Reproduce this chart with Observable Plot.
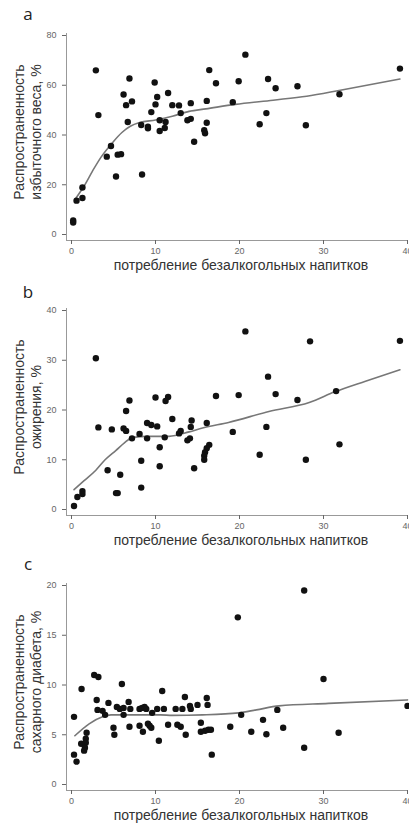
<!DOCTYPE html>
<html><head><meta charset="utf-8">
<script src="https://cdn.jsdelivr.net/npm/d3@7"></script>
<script src="https://cdn.jsdelivr.net/npm/@observablehq/plot@0.6"></script>
<style>
body{margin:0;background:#fff;width:409px;overflow:hidden}
svg{display:block}
</style></head><body><div id="chart"></div>
<script>
const xTicks = [0, 10, 20, 30, 40];
const xTitle = "потребление безалкогольных напитков";
const yTitle1 = "Распространенность";

// Panel a: overweight prevalence
const aX = [2.9,6.9,9.9,6.2,10.2,11.5,7.2,6.5,10.0,12.0,12.8,14.2,9.5,13.0,3.2,6.7,8.3,9.1,9.1,10.5,11.2,11.1,10.5,13.8,14.2,14.6,4.7,4.2,5.5,5.9,5.3,8.4,1.3,1.3,0.6,0.2,0.2,
  20.7,16.4,17.2,19.9,23.4,24.3,26.9,39.1,16.1,19.2,31.9,23.2,22.4,27.9,16.1,15.8,15.9];
const aY = [66,62.7,61.1,56.3,55.3,56.9,53.5,52,52.3,52,51.9,52.8,49.2,48.8,48,45.2,44,43.3,42.7,45.9,45.2,42.8,41.6,45.9,46.5,37.3,35.6,31.3,32.1,32.3,23.3,24.1,18.9,14.7,13.6,5.6,4.8,
  72.3,66.1,60.8,61.6,62.5,58.8,59.6,66.7,53.7,53.2,56.4,48.8,44.3,43.9,44.9,41.9,40.7];
const aLineX = [0.5,1.5,2.5,3.5,4.9,6.0,7.0,8.1,10.0,12.0,14.0,16.0,19.5,24.0,28.0,32.0,39.1];
const aLineY = [14.5,19.5,25.5,31,37,41,43.5,45,46,47.5,49.5,50.5,52.3,54,55.6,58,62.5];
const aYTicks = [0, 20, 40, 60, 80];

// Panel b: obesity prevalence
const bX = [2.9,6.9,10.0,11.5,11.2,6.5,12.0,14.3,3.2,4.8,6.2,6.5,7.2,8.1,9.0,9.5,10.2,9.0,11.1,12.8,13.0,14.2,13.8,14.1,10.5,8.3,10.5,14.6,4.3,5.8,8.3,5.3,5.5,1.3,1.3,0.7,0.3,
  20.7,28.4,39.1,23.4,17.2,19.9,24.3,26.9,31.5,16.1,19.2,23.2,16.4,16.1,15.9,15.8,15.8,22.4,27.9,31.9];
const bY = [30.4,21.9,22.5,22.6,21.8,19.8,18.2,17.9,16.5,16.1,16.3,15.8,14.3,15.2,17.4,17.0,16.7,14.3,14.5,15.3,15.8,16.6,13.9,14.3,12.5,9.8,8.7,8.3,7.9,7.0,4.4,3.3,3.3,3.7,3.1,2.5,0.7,
  35.8,33.8,33.9,26.7,22.8,23.0,23.2,22.0,23.8,17.4,15.6,16.6,13.0,12.3,11.5,10.8,10.0,11.0,10.0,13.1];
const bLineX = [0.3,1.5,2.9,4.0,5.3,6.3,7.3,9.2,11.6,14.0,15.6,18.7,23.5,28.3,31.4,35.0,39.1];
const bLineY = [4.0,5.8,7.9,10.0,11.9,13.4,14.5,14.7,14.7,15.6,16.4,17.5,19.7,21.5,23.7,25.8,28.1];
const bYTicks = [0, 10, 20, 30, 40];

// Panel c: diabetes prevalence
const cX = [2.7,3.2,6.0,1.2,10.8,13.5,3.0,6.8,4.4,3.1,3.7,4.0,5.4,5.75,6.2,6.2,7.0,8.1,8.4,8.7,8.9,9.6,10.2,11.0,12.4,13.2,14.1,14.2,15.0,0.3,5.0,5.1,6.9,8.1,8.5,9.1,9.3,9.5,11.5,12.6,13.0,13.6,10.4,1.8,1.7,1.7,1.15,1.6,1.5,0.3,0.6,
  27.7,19.8,30.0,16.1,16.2,24.5,40.0,20.2,22.8,15.4,15.4,15.9,16.3,16.6,18.9,21.4,23.2,25.2,31.8,27.7,16.7];
const cY = [11.0,10.8,10.1,9.6,9.4,8.8,8.5,8.3,8.2,7.5,7.4,7.0,7.8,7.6,7.7,7.0,7.6,7.6,7.7,7.8,7.6,7.2,7.6,7.6,7.6,7.6,7.9,7.6,8.0,6.8,5.7,5.0,5.8,5.9,5.3,6.1,5.9,5.7,6.0,6.0,5.8,5.0,4.4,5.2,4.6,4.2,4.1,3.7,3.4,3.0,2.3,
  19.5,16.8,10.6,8.7,8.0,7.5,7.9,7.0,6.5,6.2,5.3,5.4,5.5,5.5,5.8,5.3,5.05,5.7,5.2,3.7,3.0];
const cLineX = [0.4,2.1,3.7,4.7,8.0,10.6,12.0,15.6,19.9,22.0,24.7,30.6,40.0];
const cLineY = [4.9,6.1,6.8,7.0,7.0,7.0,6.95,7.0,7.2,7.5,7.9,8.15,8.5];
const cYTicks = [0, 5, 10, 15, 20];

const panels = [
  {letter: "a", title2: "избыточного веса, %", xs: aX, ys: aY, lx: aLineX, ly: aLineY, ticks: aYTicks, letterY: 19.5},
  {letter: "b", title2: "ожирения, %", xs: bX, ys: bY, lx: bLineX, ly: bLineY, ticks: bYTicks, letterY: 23},
  {letter: "c", title2: "сахарного диабета, %", xs: cX, ys: cY, lx: cLineX, ly: cLineY, ticks: cYTicks, letterY: 20}
];

const font = "Liberation Sans, Arial, sans-serif";
const root = document.getElementById("chart");

for (const p of panels) {
  const pts = p.xs.map((x, i) => ({x, y: p.ys[i]}));
  const fit = p.lx.map((x, i) => ({x, y: p.ly[i]}));
  const ymax = p.ticks[p.ticks.length - 1];
  const svg = Plot.plot({
    width: 409, height: 275,
    marginLeft: 66, marginRight: 2, marginTop: 33, marginBottom: 35,
    style: {fontFamily: font, background: "#fff", overflow: "visible"},
    x: {domain: [0, 40], insetLeft: 5, insetRight: 0},
    y: {domain: [0, ymax], insetTop: 2, insetBottom: 6},
    marks: [
      Plot.frame({anchor: "left", stroke: "#999"}),
      Plot.frame({anchor: "bottom", stroke: "#999"}),
      Plot.axisY({ticks: p.ticks, tickSize: 4, tickPadding: 6, fontSize: 9, color: "#666", label: null}),
      Plot.axisX({ticks: xTicks, tickSize: 4, tickPadding: 3, fontSize: 9, color: "#666", label: null}),
      Plot.line(fit, {x: "x", y: "y", stroke: "#777", strokeWidth: 1.6, curve: "monotone-x"}),
      Plot.dot(pts, {x: "x", y: "y", r: 3.2, fill: "#111", stroke: "none"})
    ]
  });
  const s = d3.select(svg);
  s.append("text").text(p.letter)
    .attr("x", 28).attr("y", p.letterY).attr("text-anchor", "middle")
    .attr("font-family", "Open Sans, sans-serif").attr("font-size", 17).attr("fill", "#222");
  s.append("text").text(yTitle1)
    .attr("transform", "translate(19,132) rotate(-90)").attr("dy", "0.35em")
    .attr("text-anchor", "middle").attr("font-size", 14).attr("fill", "#333").attr("font-family", font);
  s.append("text").text(p.title2)
    .attr("transform", "translate(36,132) rotate(-90)").attr("dy", "0.35em")
    .attr("text-anchor", "middle").attr("font-size", 14).attr("fill", "#333").attr("font-family", font);
  s.append("text").text(xTitle)
    .attr("x", 241).attr("y", 270).attr("text-anchor", "middle")
    .attr("font-size", 14).attr("fill", "#333").attr("font-family", font);
  root.appendChild(svg);
}
</script></body></html>
